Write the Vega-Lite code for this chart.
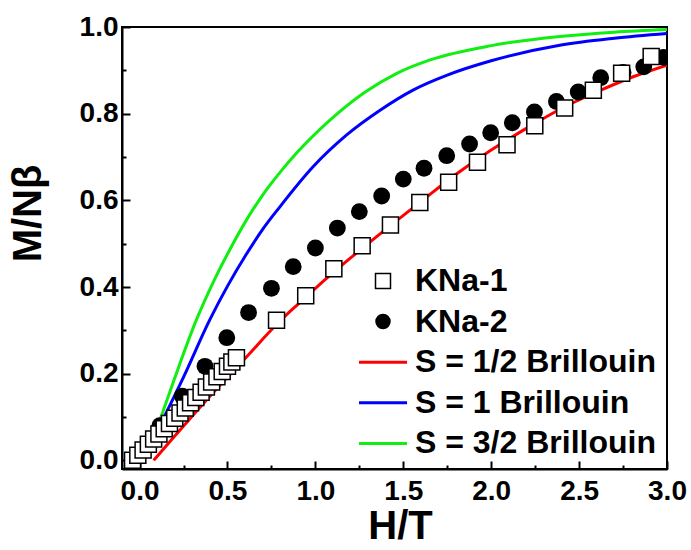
{
  "$schema": "https://vega.github.io/schema/vega-lite/v6.json",
  "autosize": "none",
  "width": 545,
  "height": 442,
  "padding": {"left": 122, "top": 27, "right": 24, "bottom": 81},
  "background": "white",
  "config": {
    "view": {"stroke": "black", "strokeWidth": 2},
    "font": "Liberation Sans",
    "axis": {
      "domainColor": "black", "domainWidth": 2, "tickColor": "black", "tickWidth": 2,
      "labelFont": "Liberation Sans", "labelFontWeight": "bold", "labelFontSize": 28, "labelColor": "black",
      "titleFont": "Liberation Sans", "titleFontWeight": "bold", "titleFontSize": 40, "titleColor": "black",
      "grid": false
    },
    "legend": {"labelFont": "Liberation Sans"}
  },
  "data": {"values": [
    {"s": "KNa-1", "x": -0.04, "y": 0.0},
    {"s": "KNa-1", "x": -0.01, "y": 0.012},
    {"s": "KNa-1", "x": 0.02, "y": 0.024},
    {"s": "KNa-1", "x": 0.05, "y": 0.037},
    {"s": "KNa-1", "x": 0.08, "y": 0.049},
    {"s": "KNa-1", "x": 0.11, "y": 0.061},
    {"s": "KNa-1", "x": 0.14, "y": 0.073},
    {"s": "KNa-1", "x": 0.17, "y": 0.085},
    {"s": "KNa-1", "x": 0.2, "y": 0.097},
    {"s": "KNa-1", "x": 0.23, "y": 0.109},
    {"s": "KNa-1", "x": 0.26, "y": 0.121},
    {"s": "KNa-1", "x": 0.29, "y": 0.133},
    {"s": "KNa-1", "x": 0.32, "y": 0.145},
    {"s": "KNa-1", "x": 0.35, "y": 0.157},
    {"s": "KNa-1", "x": 0.38, "y": 0.169},
    {"s": "KNa-1", "x": 0.41, "y": 0.181},
    {"s": "KNa-1", "x": 0.44, "y": 0.193},
    {"s": "KNa-1", "x": 0.47, "y": 0.205},
    {"s": "KNa-1", "x": 0.50, "y": 0.217},
    {"s": "KNa-1", "x": 0.525, "y": 0.227},
    {"s": "KNa-1", "x": 0.551, "y": 0.237},
    {"s": "KNa-1", "x": 0.779, "y": 0.323},
    {"s": "KNa-1", "x": 0.945, "y": 0.38},
    {"s": "KNa-1", "x": 1.105, "y": 0.442},
    {"s": "KNa-1", "x": 1.266, "y": 0.495},
    {"s": "KNa-1", "x": 1.427, "y": 0.543},
    {"s": "KNa-1", "x": 1.594, "y": 0.595},
    {"s": "KNa-1", "x": 1.758, "y": 0.642},
    {"s": "KNa-1", "x": 1.922, "y": 0.688},
    {"s": "KNa-1", "x": 2.09, "y": 0.728},
    {"s": "KNa-1", "x": 2.248, "y": 0.772},
    {"s": "KNa-1", "x": 2.418, "y": 0.813},
    {"s": "KNa-1", "x": 2.581, "y": 0.854},
    {"s": "KNa-1", "x": 2.742, "y": 0.893},
    {"s": "KNa-1", "x": 2.91, "y": 0.932},
    {"s": "KNa-2", "x": 0.115, "y": 0.08},
    {"s": "KNa-2", "x": 0.243, "y": 0.148},
    {"s": "KNa-2", "x": 0.372, "y": 0.217},
    {"s": "KNa-2", "x": 0.496, "y": 0.283},
    {"s": "KNa-2", "x": 0.62, "y": 0.341},
    {"s": "KNa-2", "x": 0.75, "y": 0.397},
    {"s": "KNa-2", "x": 0.874, "y": 0.447},
    {"s": "KNa-2", "x": 1.0, "y": 0.49},
    {"s": "KNa-2", "x": 1.125, "y": 0.536},
    {"s": "KNa-2", "x": 1.25, "y": 0.574},
    {"s": "KNa-2", "x": 1.377, "y": 0.61},
    {"s": "KNa-2", "x": 1.5, "y": 0.649},
    {"s": "KNa-2", "x": 1.618, "y": 0.674},
    {"s": "KNa-2", "x": 1.747, "y": 0.703},
    {"s": "KNa-2", "x": 1.877, "y": 0.73},
    {"s": "KNa-2", "x": 1.997, "y": 0.756},
    {"s": "KNa-2", "x": 2.12, "y": 0.779},
    {"s": "KNa-2", "x": 2.246, "y": 0.804},
    {"s": "KNa-2", "x": 2.371, "y": 0.828},
    {"s": "KNa-2", "x": 2.495, "y": 0.85},
    {"s": "KNa-2", "x": 2.623, "y": 0.883},
    {"s": "KNa-2", "x": 2.75, "y": 0.895},
    {"s": "KNa-2", "x": 2.868, "y": 0.908},
    {"s": "KNa-2", "x": 2.98, "y": 0.93},
    {"s": "S = 1/2 Brillouin", "x": 0.08, "y": 0.0},
    {"s": "S = 1/2 Brillouin", "x": 0.2, "y": 0.056},
    {"s": "S = 1/2 Brillouin", "x": 0.4, "y": 0.148},
    {"s": "S = 1/2 Brillouin", "x": 0.6, "y": 0.235},
    {"s": "S = 1/2 Brillouin", "x": 0.8, "y": 0.322},
    {"s": "S = 1/2 Brillouin", "x": 0.9, "y": 0.36},
    {"s": "S = 1/2 Brillouin", "x": 1.0, "y": 0.397},
    {"s": "S = 1/2 Brillouin", "x": 1.2, "y": 0.467},
    {"s": "S = 1/2 Brillouin", "x": 1.4, "y": 0.533},
    {"s": "S = 1/2 Brillouin", "x": 1.6, "y": 0.597},
    {"s": "S = 1/2 Brillouin", "x": 1.8, "y": 0.66},
    {"s": "S = 1/2 Brillouin", "x": 2.0, "y": 0.716},
    {"s": "S = 1/2 Brillouin", "x": 2.2, "y": 0.766},
    {"s": "S = 1/2 Brillouin", "x": 2.4, "y": 0.812},
    {"s": "S = 1/2 Brillouin", "x": 2.6, "y": 0.85},
    {"s": "S = 1/2 Brillouin", "x": 2.8, "y": 0.884},
    {"s": "S = 1/2 Brillouin", "x": 3.0, "y": 0.912},
    {"s": "S = 1 Brillouin", "x": 0.13, "y": 0.092},
    {"s": "S = 1 Brillouin", "x": 0.25, "y": 0.192},
    {"s": "S = 1 Brillouin", "x": 0.399, "y": 0.324},
    {"s": "S = 1 Brillouin", "x": 0.5, "y": 0.402},
    {"s": "S = 1 Brillouin", "x": 0.608, "y": 0.476},
    {"s": "S = 1 Brillouin", "x": 0.7, "y": 0.533},
    {"s": "S = 1 Brillouin", "x": 0.798, "y": 0.585},
    {"s": "S = 1 Brillouin", "x": 0.988, "y": 0.678},
    {"s": "S = 1 Brillouin", "x": 1.178, "y": 0.751},
    {"s": "S = 1 Brillouin", "x": 1.368, "y": 0.808},
    {"s": "S = 1 Brillouin", "x": 1.558, "y": 0.855},
    {"s": "S = 1 Brillouin", "x": 1.75, "y": 0.889},
    {"s": "S = 1 Brillouin", "x": 2.0, "y": 0.922},
    {"s": "S = 1 Brillouin", "x": 2.39, "y": 0.958},
    {"s": "S = 1 Brillouin", "x": 2.7, "y": 0.974},
    {"s": "S = 1 Brillouin", "x": 3.0, "y": 0.985},
    {"s": "S = 3/2 Brillouin", "x": 0.115, "y": 0.092},
    {"s": "S = 3/2 Brillouin", "x": 0.2, "y": 0.19},
    {"s": "S = 3/2 Brillouin", "x": 0.323, "y": 0.324},
    {"s": "S = 3/2 Brillouin", "x": 0.42, "y": 0.412},
    {"s": "S = 3/2 Brillouin", "x": 0.513, "y": 0.486},
    {"s": "S = 3/2 Brillouin", "x": 0.61, "y": 0.556},
    {"s": "S = 3/2 Brillouin", "x": 0.703, "y": 0.614},
    {"s": "S = 3/2 Brillouin", "x": 0.8, "y": 0.665},
    {"s": "S = 3/2 Brillouin", "x": 0.893, "y": 0.709},
    {"s": "S = 3/2 Brillouin", "x": 1.083, "y": 0.785},
    {"s": "S = 3/2 Brillouin", "x": 1.273, "y": 0.847},
    {"s": "S = 3/2 Brillouin", "x": 1.463, "y": 0.893},
    {"s": "S = 3/2 Brillouin", "x": 1.653, "y": 0.924},
    {"s": "S = 3/2 Brillouin", "x": 2.0, "y": 0.957},
    {"s": "S = 3/2 Brillouin", "x": 2.39, "y": 0.978},
    {"s": "S = 3/2 Brillouin", "x": 2.7, "y": 0.988},
    {"s": "S = 3/2 Brillouin", "x": 3.0, "y": 0.994}
  ]},
  "encoding": {
    "x": {
      "field": "x", "type": "quantitative",
      "scale": {"domain": [-0.1, 3.0], "nice": false, "zero": false},
      "axis": {
        "title": "H/T",
        "values": [0, 0.25, 0.5, 0.75, 1.0, 1.25, 1.5, 1.75, 2.0, 2.25, 2.5, 2.75, 3.0],
        "labelExpr": "round(datum.value * 4) % 2 === 0 ? format(datum.value, '.1f') : ''",
        "tickSize": {"condition": {"test": "round(datum.value * 4) % 2 === 0", "value": -8}, "value": -4},
        "labelPadding": 16,
        "labelFlush": false,
        "labelOverlap": false,
        "titleX": 278,
        "titleY": 69,
        "titleBaseline": "alphabetic",
        "titleAnchor": null
      }
    },
    "y": {
      "field": "y", "type": "quantitative",
      "scale": {"domain": [-0.02, 1.0], "nice": false, "zero": false},
      "axis": {
        "title": "M/Nβ",
        "values": [0, 0.1, 0.2, 0.3, 0.4, 0.5, 0.6, 0.7, 0.8, 0.9, 1.0],
        "labelExpr": "round(datum.value * 10) % 2 === 0 ? format(datum.value, '.1f') : ''",
        "tickSize": {"condition": {"test": "round(datum.value * 10) % 2 === 0", "value": -8}, "value": -4},
        "labelPadding": 12,
        "labelFlush": false,
        "labelOverlap": false,
        "titleX": -94,
        "titleY": 186,
        "titleAngle": -90,
        "titleAlign": "center",
        "titleBaseline": "middle"
      }
    }
  },
  "layer": [
    {
      "transform": [{"filter": "indexof(datum.s, 'Brillouin') >= 0"}],
      "mark": {"type": "line", "strokeWidth": 3, "interpolate": "monotone", "clip": true},
      "encoding": {
        "stroke": {
          "field": "s", "type": "nominal",
          "scale": {"domain": ["KNa-1", "KNa-2", "S = 1/2 Brillouin", "S = 1 Brillouin", "S = 3/2 Brillouin"],
                    "range": ["black", "black", "#ff0000", "#0000ff", "#11ee11"]},
          "legend": {
            "title": null, "orient": "none", "legendX": 245, "legendY": 238,
            "padding": 0,
            "labelFontSize": 32, "labelFontWeight": "bold", "labelColor": "black",
            "labelOffset": 16, "labelLimit": 400,
            "symbolSize": 2304, "symbolStrokeWidth": 3,
            "rowPadding": 8.6,
            "encode": {
              "symbols": {"update": {
                "size": {"signal": "datum.value === 'KNa-1' ? 225 : datum.value === 'KNa-2' ? 240 : 2304"},
                "strokeWidth": {"signal": "datum.value === 'KNa-1' ? 1.5 : datum.value === 'KNa-2' ? 0 : 3"}
              }}
            }
          }
        },
        "detail": {"field": "s"}
      }
    },
    {
      "transform": [{"filter": "datum.s === 'KNa-2'"}],
      "mark": {"type": "point", "size": 283, "opacity": 1, "strokeWidth": 0, "clip": true},
      "encoding": {
        "shape": {"field": "s", "type": "nominal",
          "scale": {"domain": ["KNa-1", "KNa-2", "S = 1/2 Brillouin", "S = 1 Brillouin", "S = 3/2 Brillouin"],
                    "range": ["square", "circle", "stroke", "stroke", "stroke"]}},
        "fill": {"field": "s", "type": "nominal",
          "scale": {"domain": ["KNa-1", "KNa-2", "S = 1/2 Brillouin", "S = 1 Brillouin", "S = 3/2 Brillouin"],
                    "range": ["white", "black", "transparent", "transparent", "transparent"]}},
        "stroke": {"field": "s", "type": "nominal"}
      }
    },
    {
      "transform": [{"filter": "datum.s === 'KNa-1'"}],
      "mark": {"type": "point", "size": 256, "opacity": 1, "strokeWidth": 1.5, "clip": true},
      "encoding": {
        "shape": {"field": "s", "type": "nominal"},
        "fill": {"field": "s", "type": "nominal"},
        "stroke": {"field": "s", "type": "nominal"}
      }
    }
  ]
}
